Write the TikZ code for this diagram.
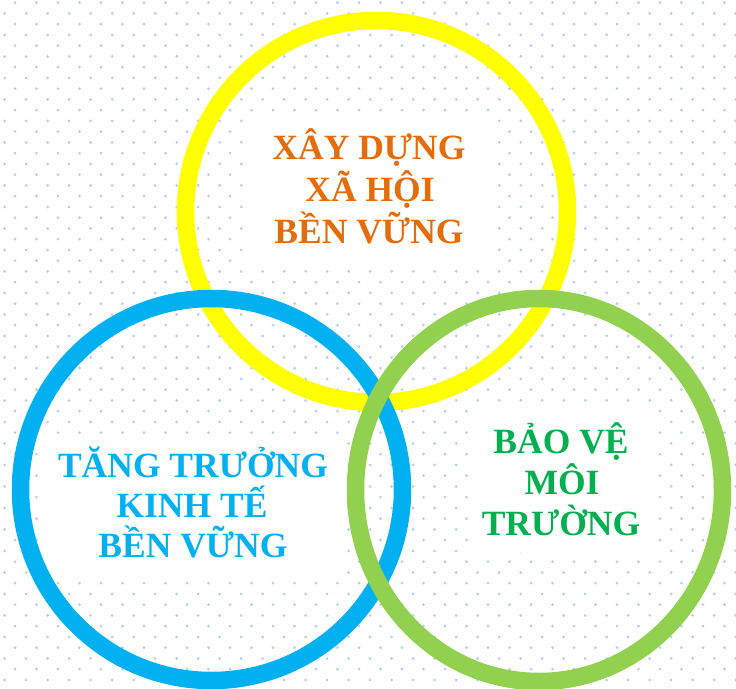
\documentclass[tikz,border=0pt]{standalone}
\usepackage{fontspec}
\setmainfont{Liberation Serif}
\definecolor{dotc}{HTML}{B9CDEE}
\definecolor{ringY}{HTML}{FFFF00}
\definecolor{ringB}{HTML}{00B0F0}
\definecolor{ringG}{HTML}{92D050}
\definecolor{txtO}{HTML}{E46C0A}
\definecolor{txtB}{HTML}{00B0F0}
\definecolor{txtG}{HTML}{00B050}
\tikzset{
  ring/.style={line width=17.5pt},
  lbl/.style={anchor=base, inner sep=0pt, font=\fontsize{35.5}{42}\selectfont\bfseries},
}
\begin{document}
\begin{tikzpicture}[x=1pt,y=-1pt]
\useasboundingbox (0,0) rectangle (736,688);
\fill[white] (0,0) rectangle (736,688);
% dotted background
\foreach \r in {0,...,63}{
  \pgfmathsetmacro{\yy}{2.7+10.75*\r}
  \pgfmathsetmacro{\xo}{isodd(\r)?4.7:15}
  \foreach \c in {0,...,34}{
    \fill[dotc] ({\xo+21.5*\c},\yy) circle (1.5pt);
  }
}
% white text panels
\fill[white] (250,115) rectangle (490,265);
\fill[white] (42,437) rectangle (342,575);
\fill[white] (470,405) rectangle (652,552);
% rings
\draw[ring, ringY] (376.5,211.5) circle (191pt);
\draw[ring, ringB] (211.5,489.5) circle (191pt);
\draw[ring, ringG] (539,490) ellipse [x radius=183.5pt, y radius=191.5pt];
% labels
\node[lbl, txtO] (o1) at (369,159) {XÂY DỰNG};
\node[lbl, txtO] (o2) at (370,201) {XÃ HỘI};
\node[lbl, txtO] (o3) at (369,243) {BỀN VỮNG};
\node[lbl, txtB] (b1) at (193,477) {TĂNG TRƯỞNG};
\node[lbl, txtB] (b2) at (192,517) {KINH TẾ};
\node[lbl, txtB] (b3) at (193,557) {BỀN VỮNG};
\node[lbl, txtG] (g1) at (561,453) {BẢO VỆ};
\node[lbl, txtG] (g2) at (562,494) {MÔI};
\node[lbl, txtG] (g3) at (561,535) {TRƯỜNG};
\end{tikzpicture}
\end{document}
